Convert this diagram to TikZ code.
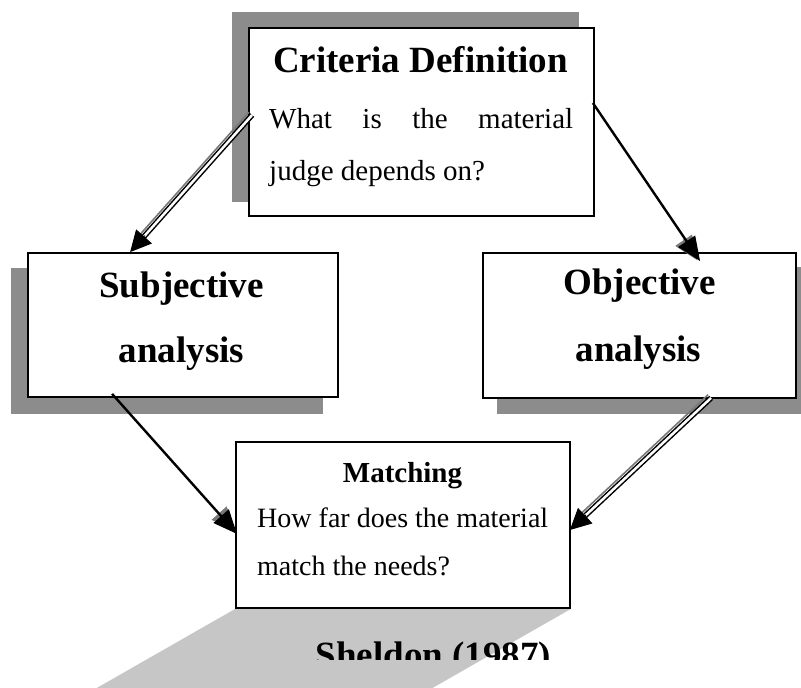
\documentclass[tikz,border=0pt]{standalone}
\usepackage{fontspec}
\setmainfont{Liberation Serif}
\usetikzlibrary{arrows.meta,calc,backgrounds}
\definecolor{shadowdark}{RGB}{140,140,140}
\definecolor{shadowlight}{RGB}{198,198,198}
\definecolor{edgegray}{RGB}{120,120,120}
\begin{document}
\begin{tikzpicture}[x=1pt,y=-1pt,
  box/.style={draw=black, line width=1.8pt, fill=white, inner sep=0pt},
  bigbold/.style={font=\fontsize{37}{44}\selectfont\bfseries, inner sep=0pt, anchor=base},
  midbold/.style={font=\fontsize{29}{34}\selectfont\bfseries, inner sep=0pt, anchor=base},
  bodytext/.style={font=\fontsize{29}{34}\selectfont, inner sep=0pt, anchor=base west},
  bodysmall/.style={font=\fontsize{28}{33}\selectfont, inner sep=0pt, anchor=base west},
  single/.style={line width=2.4pt, -{Triangle[length=24pt,width=20pt]}},
  headshadow/.style={edgegray, line width=1pt, -{Triangle[length=24pt,width=20pt]}},
  dblline/.style={line width=1.5pt, double=white, double distance=2.5pt},
  dbledge/.style={edgegray, line width=1.6pt},
  tiponly/.style={line width=1pt, -{Triangle[length=21pt,width=21pt]}}
]
\useasboundingbox (0,0) rectangle (801,688);
\clip (0,0) rectangle (801,688);

% boxes
\node[box, minimum width=345pt, minimum height=188pt] (crit) at (421.5,122) {};
\node[box, minimum width=310pt, minimum height=144pt] (subj) at (183,325) {};
\node[box, minimum width=313pt, minimum height=145pt] (obj) at (639.5,325.5) {};
\node[box, minimum width=334pt, minimum height=166pt] (match) at (403,525) {};

% shadows
\begin{scope}[on background layer]
  \fill[shadowdark] ([shift={(-16,-15)}]crit.south west) rectangle ([shift={(-16,-15)}]crit.north east);
  \fill[shadowdark] ([shift={(-16,16)}]subj.south west) rectangle ([shift={(-16,16)}]subj.north east);
  \fill[shadowdark] ([shift={(15,15)}]obj.south west) rectangle ([shift={(15,15)}]obj.north east);
  \fill[shadowlight] (match.south west) -- (match.south east)
     -- ([shift={(-157.5,90)}]match.south east) -- ([shift={(-157.5,90)}]match.south west) -- cycle;
\end{scope}

% texts
\node[bigbold] (crittitle) at (420.5,72) {Criteria Definition};
\node[bodytext] (critl1) at (269,128) {\makebox[304pt][s]{What is the material}};
\node[bodytext] (critl2) at (269,180) {judge depends on?};

\node[bigbold] (subjl1) at (181.5,297) {Subjective};
\node[bigbold] (subjl2) at (181.5,362) {analysis};

\node[bigbold] (objl1) at (639.5,294) {Objective};
\node[bigbold] (objl2) at (638.5,361) {analysis};

\node[midbold] (matchtitle) at (402.5,482) {Matching};
\node[bodysmall] (matchl1) at (257,527) {\makebox[291pt][s]{How far does the material}};
\node[bodysmall] (matchl2) at (257,575) {match the needs?};

\begin{scope}
  \clip (0,0) rectangle (801,659);
  \node[bigbold] (sheldon) at (433.5,667) {Sheldon (1987)};
\end{scope}

% connector end points
\coordinate (a1s) at ([shift={(4,-7)}]crit.west);
\coordinate (a1e) at ([shift={(103,0)}]subj.north west);
\coordinate (a2s) at ([shift={(-2,-19)}]crit.east);
\coordinate (a2e) at ([shift={(218,9)}]obj.north west);
\coordinate (a3s) at ([shift={(85,-4)}]subj.south west);
\coordinate (a3e) at ([shift={(2,9)}]match.west);
\coordinate (a4s) at ([shift={(229,-1)}]obj.south west);
\coordinate (a4e) at ([shift={(-1,5)}]match.east);

% arrow 1 (double): criteria -> subjective
\draw[dbledge] ($(a1s)+(-3.2,-2.8)$) -- ($($(a1e)!19pt!(a1s)$)+(-3.2,-2.8)$);
\draw[dblline] (a1s) -- ($(a1e)!18pt!(a1s)$);
\draw[tiponly] ($(a1e)!22pt!(a1s)$) -- (a1e);

% arrow 2 (single): criteria -> objective
\draw[headshadow] ($(a2e)!25pt!(a2s)+(-3,-1)$) -- ($(a2e)+(-3,-1)$);
\draw[single] (a2s) -- (a2e);

% arrow 3 (single): subjective -> matching
\draw[headshadow] ($(a3e)!25pt!(a3s)+(-2,-3)$) -- ($(a3e)+(-2,-3)$);
\draw[single] (a3s) -- (a3e);

% arrow 4 (double): objective -> matching
\draw[dbledge] ($(a4s)+(-3,-3.2)$) -- ($($(a4e)!19pt!(a4s)$)+(-3,-3.2)$);
\draw[dblline] (a4s) -- ($(a4e)!18pt!(a4s)$);
\draw[tiponly] ($(a4e)!22pt!(a4s)$) -- (a4e);
\end{tikzpicture}
\end{document}
